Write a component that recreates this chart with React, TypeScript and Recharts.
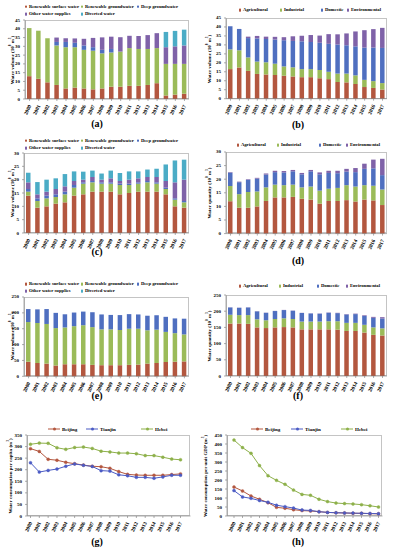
import React from 'react';
import { BarChart, Bar, LineChart, Line, XAxis, YAxis } from 'recharts';

const FONT = '"Liberation Serif", "Times New Roman", serif';

const years = ['2000', '2001', '2002', '2003', '2004', '2005', '2006', '2007', '2008', '2009', '2010', '2011', '2012', '2013', '2014', '2015', '2016', '2017'];

// (a) Beijing water supply
const bjSurface = [13, 11.5, 9.5, 8, 6, 6.5, 6, 5.5, 6, 7, 7, 7.5, 7.5, 8, 9, 2, 2.5, 3];
const bjGround = [27.4, 27.4, 25.1, 22.5, 23.5, 23, 22, 22, 20, 19.5, 20, 21.5, 21, 20.5, 20, 18, 17.5, 17];
const bjDeep = [0, 0, 0, 2, 3, 2.5, 2.5, 2, 2, 2, 0, 0, 0, 0, 0, 0, 0, 0];
const bjOther = [0, 0, 0, 2.5, 2.1, 2.5, 3.8, 5.3, 7.1, 7, 8.2, 7, 7.4, 7.9, 8.5, 9.5, 10, 10.5];
const bjDiverted = [0, 0, 0, 0, 0, 0, 0, 0, 0, 0, 0, 0, 0, 0, 0, 8.7, 8.8, 9];

// (b) Beijing water use
const bjAgri = [16.5, 17.4, 15.5, 13.8, 13.5, 13.2, 12.8, 12.4, 12, 12, 11.4, 10.9, 9.3, 9.1, 8.2, 6.5, 6, 5.1];
const bjInd = [11, 9.6, 7.5, 6.9, 6.8, 6.3, 5.2, 5.1, 4.5, 4.5, 4.6, 4.1, 4.7, 4.9, 4.8, 4, 3.8, 3.6];
const bjDom = [12.9, 11.9, 10.8, 12.9, 13, 13.5, 14.6, 14.7, 15.5, 15.1, 15.2, 15.6, 16.2, 15.8, 16.2, 18, 18.7, 19.6];
const bjEnv = [0, 0, 0.8, 1.4, 1.3, 1.5, 1.7, 2.6, 3.1, 3.9, 4, 5.4, 5.7, 6.6, 8.3, 9.7, 10.3, 11.2];

// (c) Tianjin water supply
const tjSurface = [14, 9.5, 10, 11, 11.5, 14, 14.5, 15.5, 15.5, 15.5, 14.5, 15, 15.5, 15.5, 15.5, 14.5, 10, 9.5];
const tjGround = [1.5, 2.5, 3, 2.5, 3, 3, 4, 3.5, 3, 3, 3.5, 3, 3, 3.5, 3, 2, 2.5, 2];
const tjDeep = [1, 1, 1, 1, 1, 1, 0.5, 0.5, 0.5, 0.5, 0.5, 0.5, 0.5, 0.5, 0.5, 0.5, 0.5, 0.5];
const tjOther = [2.5, 1.5, 1.5, 2, 2, 1.5, 1, 1.5, 1, 1.5, 1, 1.5, 1.5, 1.5, 2, 2.5, 6, 8];
const tjDiverted = [3.6, 4.6, 4.5, 4, 4.6, 3.6, 3, 2.4, 2.3, 2.9, 3, 3.1, 2.6, 2.8, 3.1, 6.2, 8.2, 7.5];

// (d) Tianjin water use
const tjAgri = [11.9, 9.5, 9.5, 10, 12, 13.3, 13.3, 13.5, 12.8, 12.5, 11, 12, 12, 12.3, 11.8, 12.5, 12.2, 10.5];
const tjInd = [5.6, 5, 5.8, 5.5, 5, 4.7, 4.5, 4.5, 4.2, 4.8, 4.8, 4.5, 4.8, 5.5, 5.5, 5.3, 5.4, 5.7];
const tjDom = [4.9, 4.4, 4.5, 4.7, 4.7, 4.6, 4.7, 4.9, 4.8, 5.6, 6, 5.8, 5.4, 5, 5.3, 6, 6.4, 5.3];
const tjEnv = [0.2, 0.2, 0.2, 0.3, 0.4, 0.5, 0.5, 0.5, 0.5, 0.5, 0.7, 0.8, 0.9, 1, 1.5, 1.9, 3.2, 6];

// (e) Hebei water supply
const hbSurface = [46, 42, 40, 34, 38, 38, 38, 36, 35, 35, 35, 36, 37, 40, 42, 45, 46, 47];
const hbGround = [125, 126, 125, 118, 116, 120, 123, 119, 113, 113, 111, 114, 113, 105, 105, 95, 90, 85];
const hbDeep = [41, 43, 47, 48, 41.5, 43, 43, 47, 47, 45.5, 47, 46, 45, 46, 45.5, 47.5, 46.5, 49.6];
const hbOther = [0, 0, 0, 0, 0, 0, 0, 0, 0, 0, 0, 0, 0, 0, 0, 0, 0, 0];
const hbDiverted = [0, 0, 0, 0, 0, 0, 0, 0, 0, 0, 0, 0, 0, 0, 0, 0, 0, 0];

// (f) Hebei water use
const hbAgri = [162, 162, 161, 150, 148, 150, 151, 150, 144, 144, 144, 144, 143, 139, 139, 134, 127, 125];
const hbInd = [27, 26, 27, 25, 24, 26, 27, 26, 24, 24, 24, 25, 26, 25, 25, 24, 23, 22];
const hbDom = [22.5, 22.5, 23.5, 24.5, 23, 24.5, 25.5, 25.5, 26.5, 25, 24.3, 26.2, 25, 25.8, 27, 27.5, 29.5, 30.6];
const hbEnv = [0.5, 0.5, 0.5, 0.5, 0.5, 0.5, 0.5, 0.5, 0.5, 0.5, 0.7, 0.8, 1, 1.2, 1.5, 2, 3, 4];

// (g) per capita water consumption
const pcBeijing = [291, 279, 245, 241, 232, 226, 220, 215, 213, 206, 192, 180, 177, 176, 176, 176, 179, 182];
const pcTianjin = [230, 190, 197, 203, 215, 225, 219, 214, 196, 194, 178, 174, 167, 167, 163, 169, 176, 176];
const pcHebei = [310, 315, 314, 295, 288, 296, 298, 292, 280, 277, 272, 272, 269, 261, 261, 254, 246, 243];

// (h) per unit GDP water consumption
const gdpBeijing = [161, 139, 111, 93, 74, 48, 43, 35, 30, 28, 24, 20, 18, 17, 15, 15, 13, 12];
const gdpTianjin = [141, 106, 98, 86, 76, 60, 52, 44, 33, 31, 24, 20, 18, 17, 16, 15, 14, 13];
const gdpHebei = [422, 380, 348, 280, 224, 198, 176, 144, 120, 115, 93, 80, 72, 69, 67, 63, 57, 50];

const C_BROWN = '#B3573F';
const C_GREEN = '#9BBB59';
const C_BLUE = '#4F6FC0';
const C_PURPLE = '#7F62A8';
const C_AQUA = '#4BACC6';

const supplyNames = ['Renewable surface water', 'Renewable groundwater', 'Deep groundwater', 'Other water supplies', 'Diverted water'];
const supplyColors = [C_BROWN, C_GREEN, C_BLUE, C_PURPLE, C_AQUA];
const useNames = ['Agricultural', 'Industrial', 'Domestic', 'Environmental'];
const useColors = [C_BROWN, C_GREEN, C_BLUE, C_PURPLE];
const cityNames = ['Beijing', 'Tianjin', 'Hebei'];
const cityColors = ['#B3573F', '#4B5BC4', '#8DB04A'];

type Rect = { x0: number; x1: number; y0: number; y1: number };
type LegendItem = { x: number; y: number };

const YW = 20;
const XH = 18;

const rows = (series: number[][]) =>
  years.map((year, i) => {
    const row: Record<string, string | number> = { year };
    series.forEach((s, k) => (row['s' + k] = s[i]));
    return row;
  });

const YearTick = (props: any) => {
  const { x, y, payload } = props;
  return (
    <text x={x} y={y + 2} transform={`rotate(-65, ${x}, ${y + 2})`} textAnchor="end" dominantBaseline="central" fontSize={5.2} fontWeight="bold" fontFamily={FONT} fill="#000">
      {payload.value}
    </text>
  );
};

const ValTick = (props: any) => {
  const { x, y, payload } = props;
  return (
    <text x={x - 1} y={y} textAnchor="end" dominantBaseline="central" fontSize={5} fontWeight="bold" fontFamily={FONT} fill="#000">
      {payload.value}
    </text>
  );
};

const Frame: React.FC<{ r: Rect }> = ({ r }) => (
  <div style={{ position: 'absolute', left: r.x0, top: r.y0, width: r.x1 - r.x0, height: r.y1 - r.y0, border: '0.6px solid #c4c4c4', boxSizing: 'border-box' }} />
);

const YLabel: React.FC<{ x: number; r: Rect; text: React.ReactNode }> = ({ x, r, text }) => (
  <div style={{ position: 'absolute', left: x, top: (r.y0 + r.y1) / 2, transform: 'translate(-50%, -50%) rotate(-90deg)', whiteSpace: 'nowrap', fontSize: 5, fontWeight: 'bold', fontFamily: FONT, lineHeight: 1 }}>
    {text}
  </div>
);

const Caption: React.FC<{ x: number; y: number; text: string }> = ({ x, y, text }) => (
  <div style={{ position: 'absolute', left: x, top: y, transform: 'translate(-50%, -50%)', fontSize: 10, fontWeight: 'bold', fontFamily: FONT, lineHeight: 1 }}>{text}</div>
);

const SquareLegend: React.FC<{ names: string[]; colors: string[]; pos: LegendItem[] }> = ({ names, colors, pos }) => (
  <>
    {names.map((n, i) => (
      <div key={n} style={{ position: 'absolute', left: pos[i].x - 1.5, top: pos[i].y, transform: 'translateY(-50%)', display: 'flex', alignItems: 'center', whiteSpace: 'nowrap', fontSize: 4.7, fontWeight: 'bold', fontFamily: FONT, lineHeight: 1 }}>
        <span style={{ display: 'inline-block', width: 2.6, height: 2.6, background: colors[i], marginRight: 1.8 }} />
        {n}
      </div>
    ))}
  </>
);

const LineLegend: React.FC<{ pos: LegendItem[] }> = ({ pos }) => (
  <>
    {cityNames.map((n, i) => (
      <div key={n} style={{ position: 'absolute', left: pos[i].x, top: pos[i].y, transform: 'translateY(-50%)', display: 'flex', alignItems: 'center', whiteSpace: 'nowrap', fontSize: 5, fontWeight: 'bold', fontFamily: FONT, lineHeight: 1 }}>
        <span style={{ position: 'relative', display: 'inline-block', width: 12, height: 1, background: cityColors[i], marginRight: 2 }}>
          <span style={{ position: 'absolute', left: 4.5, top: -1.5, width: 3, height: 3, borderRadius: 2, background: cityColors[i] }} />
        </span>
        {n}
      </div>
    ))}
  </>
);

const box = (r: Rect) => {
  const left = r.x0 - 26;
  const top = r.y0 - 3;
  return { left, top, width: r.x1 - left + 3, height: r.y1 - top + 20 };
};

const StackPanel: React.FC<{ r: Rect; series: number[][]; colors: string[]; max: number; step: number }> = ({ r, series, colors, max, step }) => {
  const b = box(r);
  const ticks: number[] = [];
  for (let v = 0; v <= max; v += step) ticks.push(v);
  return (
    <>
      <Frame r={r} />
      <div style={{ position: 'absolute', left: b.left, top: b.top }}>
        <BarChart width={b.width} height={b.height} data={rows(series)} margin={{ top: 3, right: 3, left: 26 - YW, bottom: 20 - XH }} barSize={4.5}>
          <XAxis dataKey="year" interval={0} height={XH} tick={<YearTick />} axisLine={{ stroke: '#777', strokeWidth: 0.6 }} tickLine={{ stroke: '#777', strokeWidth: 0.6 }} tickSize={2} />
          <YAxis width={YW} domain={[0, max]} ticks={ticks} interval={0} tick={<ValTick />} axisLine={{ stroke: '#777', strokeWidth: 0.6 }} tickLine={{ stroke: '#777', strokeWidth: 0.6 }} tickSize={2} />
          {series.map((_, k) => (
            <Bar key={k} dataKey={'s' + k} stackId="a" fill={colors[k]} isAnimationActive={false} />
          ))}
        </BarChart>
      </div>
    </>
  );
};

const LinePanel: React.FC<{ r: Rect; series: number[][]; max: number; pad: [number, number] }> = ({ r, series, max, pad }) => {
  const b = box(r);
  const ticks: number[] = [];
  for (let v = 0; v <= max; v += 50) ticks.push(v);
  return (
    <>
      <Frame r={r} />
      <div style={{ position: 'absolute', left: b.left, top: b.top }}>
        <LineChart width={b.width} height={b.height} data={rows(series)} margin={{ top: 3, right: 3, left: 26 - YW, bottom: 20 - XH }}>
          <XAxis dataKey="year" interval={0} height={XH} padding={{ left: pad[0], right: pad[1] }} tick={<YearTick />} axisLine={{ stroke: '#777', strokeWidth: 0.6 }} tickLine={{ stroke: '#777', strokeWidth: 0.6 }} tickSize={2} />
          <YAxis width={YW} domain={[0, max]} ticks={ticks} interval={0} tick={<ValTick />} axisLine={{ stroke: '#777', strokeWidth: 0.6 }} tickLine={{ stroke: '#777', strokeWidth: 0.6 }} tickSize={2} />
          {series.map((_, k) => (
            <Line key={k} dataKey={'s' + k} stroke={cityColors[k]} strokeWidth={1} dot={{ r: 1.5, fill: cityColors[k], stroke: cityColors[k], strokeWidth: 0.4 }} isAnimationActive={false} />
          ))}
        </LineChart>
      </div>
    </>
  );
};

const M3 = <>(10<sup style={{ fontSize: 3.3 }}>8</sup> m<sup style={{ fontSize: 3.3 }}>3</sup>)</>;
const CUBIC = <>(m<sup style={{ fontSize: 3.3 }}>3</sup>)</>;

const ra: Rect = { x0: 25, x1: 189, y0: 20, y1: 99 };
const rb: Rect = { x0: 226, x1: 387, y0: 18.3, y1: 99 };
const rc: Rect = { x0: 24, x1: 189, y0: 153.3, y1: 233.3 };
const rd: Rect = { x0: 226, x1: 387, y0: 151.7, y1: 233.3 };
const re: Rect = { x0: 24, x1: 189, y0: 296.7, y1: 376 };
const rf: Rect = { x0: 226, x1: 387, y0: 295, y1: 376 };
const rg: Rect = { x0: 26.5, x1: 190, y0: 435, y1: 516 };
const rh: Rect = { x0: 226.5, x1: 382, y0: 435, y1: 516 };

const supplyLegend = (y1: number, y2: number): LegendItem[] => [
  { x: 26, y: y1 },
  { x: 82, y: y1 },
  { x: 138, y: y1 },
  { x: 26, y: y2 },
  { x: 82, y: y2 },
];

export default function App() {
  return (
    <div style={{ position: 'fixed', left: 0, top: 0, width: 395, height: 550, background: '#fff', overflow: 'hidden' }}>
      {/* (a) */}
      <SquareLegend names={supplyNames} colors={supplyColors} pos={supplyLegend(6.5, 14.2)} />
      <StackPanel r={ra} series={[bjSurface, bjGround, bjDeep, bjOther, bjDiverted]} colors={supplyColors} max={45} step={5} />
      <YLabel x={11.5} r={ra} text={<>Water volume {M3}</>} />
      <Caption x={97} y={124} text="(a)" />

      {/* (b) */}
      <SquareLegend names={useNames} colors={useColors} pos={[{ x: 240, y: 10 }, { x: 281, y: 10 }, { x: 322, y: 10 }, { x: 348, y: 10 }]} />
      <StackPanel r={rb} series={[bjAgri, bjInd, bjDom, bjEnv]} colors={useColors} max={45} step={5} />
      <YLabel x={209} r={rb} text={<>Water volume {M3}</>} />
      <Caption x={298} y={125} text="(b)" />

      {/* (c) */}
      <SquareLegend names={supplyNames} colors={supplyColors} pos={supplyLegend(140.7, 148.3)} />
      <StackPanel r={rc} series={[tjSurface, tjGround, tjDeep, tjOther, tjDiverted]} colors={supplyColors} max={30} step={5} />
      <YLabel x={11.5} r={rc} text={<>Water volume {M3}</>} />
      <Caption x={97} y={252} text="(c)" />

      {/* (d) */}
      <SquareLegend names={useNames} colors={useColors} pos={[{ x: 238, y: 145 }, { x: 278, y: 145 }, { x: 320, y: 145 }, { x: 347, y: 145 }]} />
      <StackPanel r={rd} series={[tjAgri, tjInd, tjDom, tjEnv]} colors={useColors} max={30} step={5} />
      <YLabel x={209} r={rd} text={<>Water quantity {M3}</>} />
      <Caption x={298} y={261} text="(d)" />

      {/* (e) */}
      <SquareLegend names={supplyNames} colors={supplyColors} pos={supplyLegend(284, 291)} />
      <StackPanel r={re} series={[hbSurface, hbGround, hbDeep, hbOther, hbDiverted]} colors={supplyColors} max={250} step={50} />
      <YLabel x={11.5} r={re} text={<>Water volume {M3}</>} />
      <Caption x={97} y={396} text="(e)" />

      {/* (f) */}
      <SquareLegend names={useNames} colors={useColors} pos={[{ x: 240, y: 286 }, { x: 280, y: 286 }, { x: 318, y: 286 }, { x: 347, y: 286 }]} />
      <StackPanel r={rf} series={[hbAgri, hbInd, hbDom, hbEnv]} colors={useColors} max={250} step={50} />
      <YLabel x={209} r={rf} text={<>Water quantity {M3}</>} />
      <Caption x={298} y={396} text="(f)" />

      {/* (g) */}
      <LineLegend pos={[{ x: 48, y: 429 }, { x: 86, y: 429 }, { x: 141, y: 429 }]} />
      <LinePanel r={rg} series={[pcBeijing, pcTianjin, pcHebei]} max={350} pad={[3.5, 10]} />
      <YLabel x={10} r={rg} text={<>Water consumption per capita {CUBIC}</>} />
      <Caption x={97} y={542} text="(g)" />

      {/* (h) */}
      <LineLegend pos={[{ x: 251, y: 429 }, { x: 291, y: 429 }, { x: 341, y: 429 }]} />
      <LinePanel r={rh} series={[gdpBeijing, gdpTianjin, gdpHebei]} max={450} pad={[7, 4]} />
      <YLabel x={205} r={rh} text={<>Water consumption per unit GDP {CUBIC}</>} />
      <Caption x={298} y={542} text="(h)" />
    </div>
  );
}
